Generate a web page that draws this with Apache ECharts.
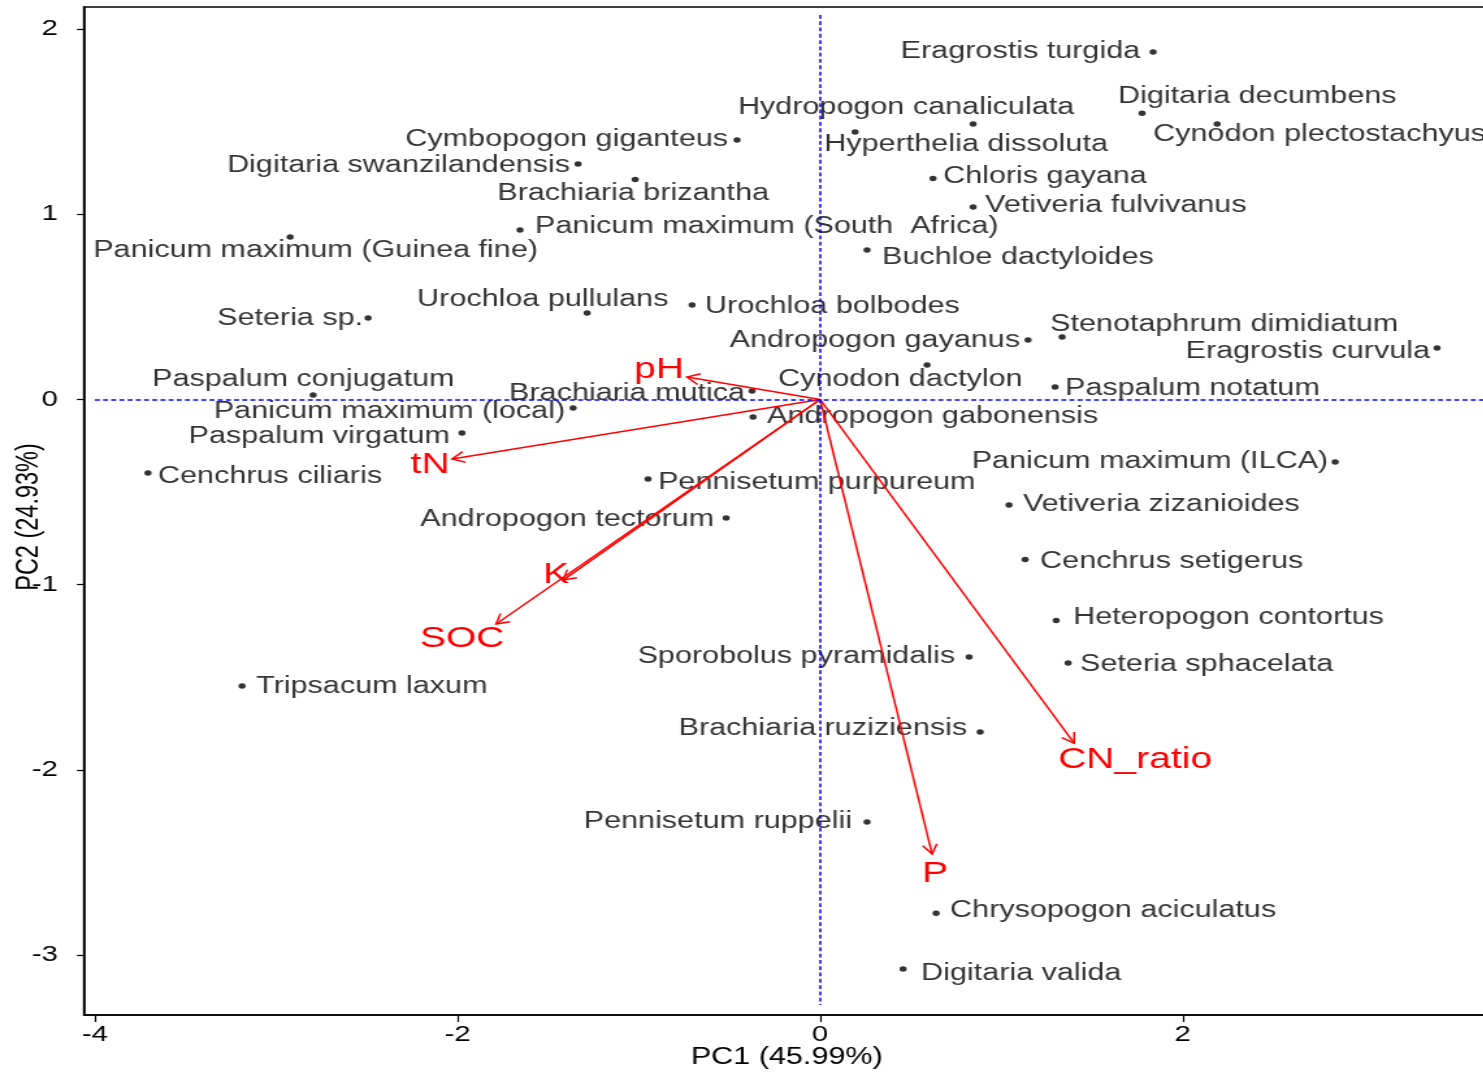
<!DOCTYPE html>
<html>
<head>
<meta charset="utf-8">
<title>PCA biplot</title>
<script src="https://cdn.jsdelivr.net/npm/echarts@6/dist/echarts.min.js"></script>
<style>
  html, body { margin: 0; padding: 0; background: #fff; overflow: hidden; }
  /* the source figure is stretched horizontally, so the chart is drawn narrower and scaled */
  #chart { width: 1141px; height: 1072px; transform: scaleX(1.3); transform-origin: 0 0; }
</style>
</head>
<body>
<div id="chart"></div>
<script>
const S = 1.3;
const FONT = "'Liberation Sans', Arial, sans-serif";

// species scores
const species = [
  "Eragrostis turgida", "Hydropogon canaliculata", "Hyperthelia dissoluta", "Digitaria decumbens",
  "Cynodon plectostachyus", "Cymbopogon giganteus", "Digitaria swanzilandensis", "Brachiaria brizantha",
  "Chloris gayana", "Vetiveria fulvivanus", "Panicum maximum (South  Africa)", "Panicum maximum (Guinea fine)",
  "Buchloe dactyloides", "Urochloa pullulans", "Urochloa bolbodes", "Seteria sp.",
  "Stenotaphrum dimidiatum", "Andropogon gayanus", "Eragrostis curvula", "Cynodon dactylon",
  "Paspalum conjugatum", "Brachiaria mutica", "Paspalum notatum", "Panicum maximum (local)",
  "Andropogon gabonensis", "Paspalum virgatum", "Cenchrus ciliaris", "Panicum maximum (ILCA)",
  "Pennisetum purpureum", "Vetiveria zizanioides", "Andropogon tectorum", "Cenchrus setigerus",
  "Heteropogon contortus", "Sporobolus pyramidalis", "Seteria sphacelata", "Tripsacum laxum",
  "Brachiaria ruziziensis", "Pennisetum ruppelii", "Chrysopogon aciculatus", "Digitaria valida"
];
const pc1 = [
  1.837, 0.193, 0.844, 1.776, 2.190, -0.458, -1.335, -1.020,
  0.623, 0.844, -1.655, -2.923, 0.259, -1.285, -0.706, -2.493,
  1.335, 1.147, 3.403, 0.590, -2.796, -0.375, 1.296, -1.362,
  -0.370, -1.975, -3.707, 2.841, -0.949, 1.042, -0.518, 1.131,
  1.302, 0.822, 1.368, -3.188, 0.883, 0.259, 0.640, 0.458
];
const pc2 = [
  1.876, 1.444, 1.488, 1.545, 1.488, 1.401, 1.272, 1.188,
  1.193, 1.039, 0.915, 0.877, 0.807, 0.467, 0.510, 0.440,
  0.337, 0.321, 0.278, 0.186, 0.024, 0.046, 0.067, -0.046,
  -0.094, -0.181, -0.397, -0.337, -0.429, -0.570, -0.640, -0.864,
  -1.193, -1.390, -1.423, -1.547, -1.795, -2.281, -2.773, -3.075
];

// variable loadings (arrows)
const loadNames = ["pH", "tN", "K", "SOC", "CN_ratio", "P"];
const loadPC1 = [-0.734, -2.030, -1.418, -1.787, 1.401, 0.618];
const loadPC2 = [0.121, -0.321, -0.975, -1.212, -1.855, -2.454];

const xTicks = [-4, -2, 0, 2];
const yTicks = [-3, -2, -1, 0, 1, 2];

// label placement: text align and offset from the point, in screen px
const labelPlace = [
  ["right", -13, -2], ["center", 51, -27], ["center", -7, 19], ["left", -24, -19],
  ["left", -64, 9], ["right", -9, -2], ["right", -8, 0], ["center", -2, 12],
  ["left", 10, -4], ["left", 12, -4], ["left", 15, -5], ["left", -197, 11],
  ["left", 15, 5], ["left", -170, -15], ["left", 13, -1], ["right", -5, -1],
  ["left", -12, -15], ["right", -8, -2], ["right", -7, 2], ["left", -149, 12],
  ["left", -161, -18], ["right", -7, 1], ["left", 10, -1], ["right", -8, 2],
  ["left", 14, -2], ["right", -12, 1], ["left", 10, 1], ["right", -7, -2],
  ["left", 10, 2], ["left", 14, -3], ["right", -12, -1], ["left", 15, 0],
  ["left", 17, -5], ["right", -14, -2], ["left", 12, -1], ["left", 14, -2],
  ["right", -13, -5], ["right", -15, -2], ["left", 14, -5], ["left", 18, 2]
];
const loadLabelPlace = [[-28, -9], [-22, 4], [-7, -7], [-34, 13], [61, 15], [3, 18]];

const chart = echarts.init(document.getElementById("chart"));

// text middle sits a little above the glyph centre, nudge down
const TEXT_DY = 2;

const pointData = species.map((name, i) => ({
  name: name,
  value: [pc1[i], pc2[i]],
  label: { align: labelPlace[i][0], offset: [labelPlace[i][1] / S, labelPlace[i][2] + TEXT_DY] }
}));

chart.setOption({
  animation: false,
  backgroundColor: "#fff",
  grid: {
    left: 64.6, right: -19.8, top: 7, bottom: 57,
    outerBoundsMode: "none",
    show: true, borderColor: "#000", borderWidth: 1.6
  },
  xAxis: {
    type: "value", min: -4.06, max: 3.8,
    splitLine: { show: false },
    axisLine: { show: true, onZero: false, lineStyle: { color: "#000", width: 1.6 } },
    axisTick: { show: true, length: 7, customValues: xTicks, lineStyle: { color: "#000", width: 1.2 } },
    axisLabel: { customValues: xTicks, fontSize: 22.5, fontFamily: FONT, color: "#000", margin: 8 },
    name: "PC1 (45.99%)", nameLocation: "middle", nameGap: 31, nameMoveOverlap: false,
    nameTextStyle: { fontSize: 23.5, fontFamily: FONT, color: "#000", padding: [0, 15, 0, 0] }
  },
  yAxis: {
    type: "value", min: -3.323, max: 2.119,
    splitLine: { show: false },
    axisLine: { show: true, onZero: false, lineStyle: { color: "#000", width: 1.6 } },
    axisTick: { show: true, length: 5.4, customValues: yTicks, lineStyle: { color: "#000", width: 1.2 } },
    axisLabel: { customValues: yTicks, fontSize: 22.5, fontFamily: FONT, color: "#000", margin: 20, padding: [4, 0, 0, 0] },
    name: "PC2 (24.93%)", nameLocation: "middle", nameGap: 30, nameMoveOverlap: false,
    nameTextStyle: { fontSize: 23.5, fontFamily: FONT, color: "#000", padding: [0, 12, 0, 0] }
  },
  series: [
    {
      type: "scatter",
      data: pointData,
      symbol: "circle",
      symbolSize: 5.5,
      itemStyle: { color: "#000" },
      label: {
        show: true, position: "inside", verticalAlign: "middle",
        formatter: (p) => p.name,
        fontSize: 23.5, fontFamily: FONT, color: "#000"
      },
      markLine: {
        silent: true, symbol: "none", animation: false,
        label: { show: false },
        lineStyle: { color: "#0000ff", type: [3.8, 2.5], width: 1.5 },
        data: [
          [{ coord: [0, 2.076] }, { coord: [0, -3.269] }],
          [{ coord: [-4.0, 0] }, { coord: [3.8, 0] }]
        ]
      },
      z: 3
    },
    {
      type: "custom",
      data: loadNames.map((n, i) => [loadPC1[i], loadPC2[i], i]),
      z: 4,
      renderItem: (params, api) => {
        const i = api.value(2);
        const o = api.coord([0, 0]);
        const t = api.coord([api.value(0), api.value(1)]);
        const ang = Math.atan2(t[1] - o[1], t[0] - o[0]);
        const L = 11, a = Math.PI / 6;
        const h1 = [t[0] - L * Math.cos(ang - a), t[1] - L * Math.sin(ang - a)];
        const h2 = [t[0] - L * Math.cos(ang + a), t[1] - L * Math.sin(ang + a)];
        const stroke = { stroke: "#ff0000", lineWidth: 1.5, fill: null };
        return {
          type: "group",
          children: [
            { type: "line", shape: { x1: o[0], y1: o[1], x2: t[0], y2: t[1] }, style: stroke },
            { type: "polyline", shape: { points: [h1, t, h2] }, style: stroke },
            {
              type: "text",
              style: {
                text: loadNames[i],
                x: t[0] + loadLabelPlace[i][0] / S,
                y: t[1] + loadLabelPlace[i][1] + TEXT_DY,
                fill: "#ff0000", fontSize: 30, fontFamily: FONT,
                align: "center", verticalAlign: "middle"
              }
            }
          ]
        };
      }
    }
  ]
});
</script>
</body>
</html>
